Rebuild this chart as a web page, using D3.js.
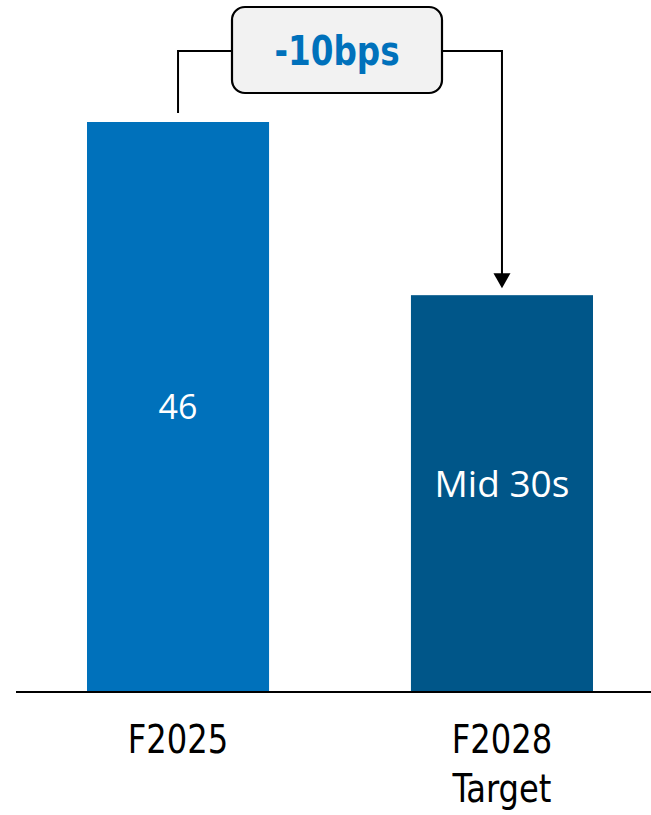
<!DOCTYPE html>
<html>
<head>
<meta charset="utf-8">
<script src="https://cdn.jsdelivr.net/npm/d3@7"></script>
<style>
  html, body { margin: 0; padding: 0; background: #fff; }
  svg { display: block; }
</style>
</head>
<body>
<div id="chart"></div>
<script>
// Categories, bar values and the text shown on each bar
const categories = ["F2025", "F2028 Target"];
const tickLines = [["F2025"], ["F2028", "Target"]];
const values = [46, 32];
const barLabels = ["46", "Mid 30s"];
const changeLabel = "-10bps";

// Presentation settings per bar
const barColors = ["#0071bb", "#005689"];
const labelSizes = [34, 37];
const labelShift = [12, 4];

const W = 651, H = 815;
const baseY = 691;
const condensed = "'Liberation Sans Narrow', 'DejaVu Sans Condensed', sans-serif";

const svg = d3.select("#chart").append("svg")
  .attr("width", W).attr("height", H);

const x = d3.scaleBand()
  .domain(categories)
  .range([87, 593])
  .paddingInner(0.438)
  .paddingOuter(0);

const y = d3.scaleLinear()
  .domain([0, 46])
  .range([baseY, 122]);

// Bars
svg.selectAll("rect.bar")
  .data(categories)
  .join("rect")
  .attr("class", "bar")
  .attr("x", d => x(d))
  .attr("width", x.bandwidth())
  .attr("y", (d, i) => y(values[i]))
  .attr("height", (d, i) => baseY - y(values[i]))
  .attr("fill", (d, i) => barColors[i]);

// Value labels inside bars
svg.selectAll("text.val")
  .data(categories)
  .join("text")
  .attr("class", "val")
  .attr("x", d => x(d) + x.bandwidth() / 2)
  .attr("y", (d, i) => (y(values[i]) + baseY) / 2 + labelShift[i])
  .attr("text-anchor", "middle")
  .attr("font-family", "'Open Sans', sans-serif")
  .attr("font-size", (d, i) => labelSizes[i])
  .attr("fill", "#fff")
  .text((d, i) => barLabels[i]);

// Baseline (x axis, no ticks)
const xAxis = d3.axisBottom(x).tickSize(0).tickFormat("");
const gx = svg.append("g")
  .attr("transform", `translate(0,${baseY + 1})`)
  .call(xAxis);
gx.select(".domain").remove();
gx.append("line")
  .attr("x1", 16).attr("x2", W)
  .attr("stroke", "#000").attr("stroke-width", 2);

// Category labels, one line per entry, slightly narrowed
gx.selectAll(".tick").each(function (d, i) {
  const t = d3.select(this).append("text")
    .attr("transform", "scale(0.93,1)")
    .attr("text-anchor", "middle")
    .attr("font-family", condensed)
    .attr("font-size", 38.5)
    .attr("fill", "#000");
  tickLines[i].forEach((line, k) => {
    t.append("tspan")
      .attr("x", 0)
      .attr("y", 61 + k * 49)
      .text(line);
  });
});

// Change callout: connector from first bar to second bar with arrow
const cx0 = x(categories[0]) + x.bandwidth() / 2;
const cx1 = x(categories[1]) + x.bandwidth() / 2;
const lineY = 51;
const box = { x0: 232, x1: 442, y0: 7, y1: 93 };

svg.append("path")
  .attr("d", `M${cx0},${y(values[0]) - 9} V${lineY} H${box.x0}`)
  .attr("fill", "none").attr("stroke", "#000").attr("stroke-width", 2);

const tipY = y(values[1]) - 7;
svg.append("path")
  .attr("d", `M${box.x1},${lineY} H${cx1} V${tipY - 10}`)
  .attr("fill", "none").attr("stroke", "#000").attr("stroke-width", 2);

// Arrow head pointing down to the second bar
svg.append("path")
  .attr("d", `M${cx1 - 8.5},${tipY - 15} L${cx1 + 8.5},${tipY - 15} L${cx1},${tipY} Z`)
  .attr("fill", "#000");

svg.append("rect")
  .attr("x", box.x0).attr("y", box.y0)
  .attr("width", box.x1 - box.x0).attr("height", box.y1 - box.y0)
  .attr("rx", 13).attr("ry", 13)
  .attr("fill", "#f2f2f2")
  .attr("stroke", "#000").attr("stroke-width", 2.2);

const cxBox = (box.x0 + box.x1) / 2;
svg.append("text")
  .attr("transform", `translate(${cxBox},65) scale(0.885,1)`)
  .attr("text-anchor", "middle")
  .attr("font-family", condensed)
  .attr("font-weight", "bold")
  .attr("font-size", 41)
  .attr("fill", "#0071bb")
  .text(changeLabel);
</script>
</body>
</html>
